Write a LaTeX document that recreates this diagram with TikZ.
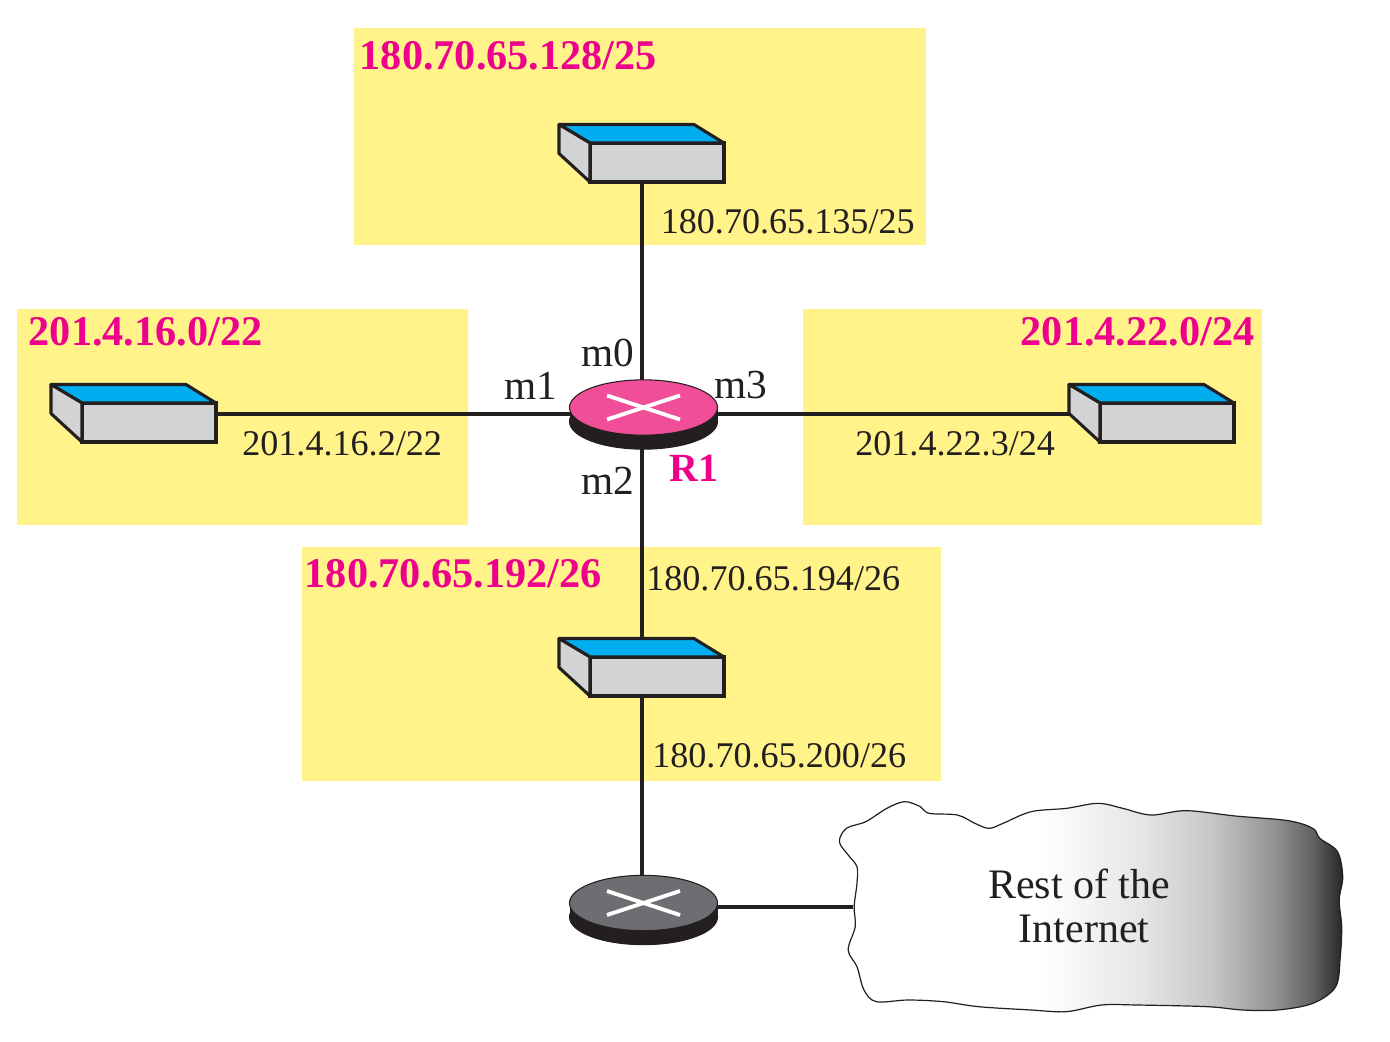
\documentclass[tikz,border=0pt]{standalone}
\usepackage{fontspec}
\setmainfont{Liberation Serif}
\usetikzlibrary{shapes.geometric,backgrounds}
\definecolor{bandyellow}{HTML}{FFF38A}
\definecolor{labelpink}{HTML}{EC008C}
\definecolor{topblue}{HTML}{00AEEF}
\definecolor{boxgray}{HTML}{D1D3D4}
\definecolor{routerpink}{HTML}{F04E98}
\definecolor{routergray}{HTML}{6D6E71}
\definecolor{inkblack}{HTML}{231F20}
\pgfdeclarehorizontalshading{cloudgrad}{100bp}{
  color(0bp)=(white); color(45bp)=(white); color(55bp)=(black!10);
  color(62bp)=(black!22); color(68bp)=(black!42); color(72bp)=(black!62);
  color(75bp)=(black!85); color(100bp)=(black!85)}
\tikzset{
  band/.style={fill=bandyellow,draw=none},
  netlabel/.style={anchor=base west,inner sep=0pt,text=labelpink,font=\fontsize{31.7}{36}\selectfont\bfseries},
  iplabel/.style={anchor=base west,inner sep=0pt,text=inkblack,font=\fontsize{27.1}{32}\selectfont},
  portlabel/.style={anchor=base west,inner sep=0pt,text=inkblack,font=\fontsize{31}{36}\selectfont},
  link/.style={draw=inkblack,line width=2.9pt},
  front/.style={rectangle,draw=inkblack,fill=boxgray,line width=2.3pt,minimum width=100.5pt,minimum height=29.25pt,inner sep=0pt,outer sep=0pt},
  edgeline/.style={draw=inkblack,line width=2.3pt,line join=round},
  routertop/.style={ellipse,draw=inkblack,line width=.8pt,minimum width=111pt,minimum height=41.5pt,inner sep=0pt,outer sep=0pt},
  crossarm/.style={draw=white,line width=2.9pt},
}
% \switchbox{name}{x of front centre}{y of front centre}
\newcommand{\switchbox}[3]{%
  \node[front] (#1) at (#2,#3) {};
  \draw[edgeline,fill=topblue] (#1.north west) -- ++(-31,-18.5) -- ++(135,0) -- (#1.north east) -- cycle;
  \draw[edgeline,fill=boxgray] (#1.north west) -- ++(-31,-18.5) -- ++(0,29) -- (#1.south west) -- cycle;
}
% \routerbox{name}{x}{y}{colour}
\newcommand{\routerbox}[4]{%
  \node[routertop,fill=inkblack,draw=inkblack] (#1base) at (#2,#3+14) {};
  \fill[inkblack] (#1base.west) rectangle ++(148,-14);
  \node[routertop,fill=#4] (#1) at (#2,#3) {};
  \draw[crossarm] (#2-36.5,#3-12) -- (#2+36.5,#3+12);
  \draw[crossarm] (#2-36.5,#3+12) -- (#2+36.5,#3-12);
}
\begin{document}
\begin{tikzpicture}[x=.75pt,y=-.75pt]
\useasboundingbox (0,0) rectangle (1390,1042);
% networks
\begin{scope}[on background layer]
\fill[band] (354,28) rectangle (926,245);
\fill[band] (17,309) rectangle (468,525);
\fill[band] (803,309) rectangle (1262,525);
\fill[band] (302,547) rectangle (941,781);
\end{scope}
% devices
\switchbox{sw0}{657}{162.5}
\switchbox{sw1}{149}{422.5}
\switchbox{sw3}{1167}{422.5}
\switchbox{sw2}{657}{676.5}
\routerbox{r1}{643.5}{407.5}{routerpink}
\routerbox{r2}{643.5}{903}{routergray}
\coordinate (hub) at (642,414);
\coordinate (hubtwo) at (642,907);
\coordinate (cloudw) at (853,907);
% cloud
\begin{scope}[shift={(820,780)},x=.264pt,y=-.25pt]
\path[shading=cloudgrad,draw=inkblack,line width=.9pt] plot[smooth cycle,tension=.55] coordinates {
(55,185)(75,145)(130,125)(190,85)(240,65)(285,80)(310,100)(390,105)(440,130)(480,145)(520,130)
(600,95)(700,85)(790,70)(860,85)(940,105)(1040,92)(1180,108)(1330,122)(1400,145)(1420,175)
(1470,215)(1485,290)(1475,360)(1482,440)(1478,530)(1465,620)(1400,670)(1300,690)(1200,690)
(1100,680)(900,675)(800,675)(700,695)(600,690)(450,680)(350,665)(250,660)(160,665)(125,630)
(105,560)(80,510)(100,440)(97,380)(105,310)(105,260)(80,225)};
\end{scope}
\node[align=center,inner sep=0pt,text=inkblack,font=\fontsize{31.5}{32.5}\selectfont] (cloudtext) at (1079,906) {Rest of the\\\hspace*{7.5pt}Internet};
% connectors
\begin{scope}[on background layer]
\draw[link] (sw0.south -| hub) -- (hub);
\draw[link] (hub) -- (sw2.north -| hub);
\draw[link] (sw2.south -| hub) -- (hubtwo);
\draw[link] (sw1.east |- hub) -- (hub);
\draw[link] (hub) -- (sw3.west |- hub);
\draw[link] (hubtwo) -- (cloudw);
\end{scope}
% labels
\node[netlabel] (n0) at (359.5,69) {180.70.65.128/25};
\node[netlabel] (n1) at (28.5,345) {201.4.16.0/22};
\node[netlabel] (n3) at (1020.5,345) {201.4.22.0/24};
\node[netlabel] (n2) at (304.5,587) {180.70.65.192/26};
\node[netlabel,font=\fontsize{30}{36}\selectfont\bfseries] (rname) at (669,481) {R1};
\node[iplabel] (ip0) at (660.5,233) {180.70.65.135/25};
\node[iplabel] (ip1) at (242,455) {201.4.16.2/22};
\node[iplabel] (ip3) at (855,455) {201.4.22.3/24};
\node[iplabel] (ip2) at (646,590) {180.70.65.194/26};
\node[iplabel] (ip4) at (652,767) {180.70.65.200/26};
\node[portlabel] (m0) at (581,366) {m0};
\node[portlabel] (m1) at (504,399) {m1};
\node[portlabel] (m2) at (581,494) {m2};
\node[portlabel] (m3) at (714,398) {m3};
\end{tikzpicture}
\end{document}
